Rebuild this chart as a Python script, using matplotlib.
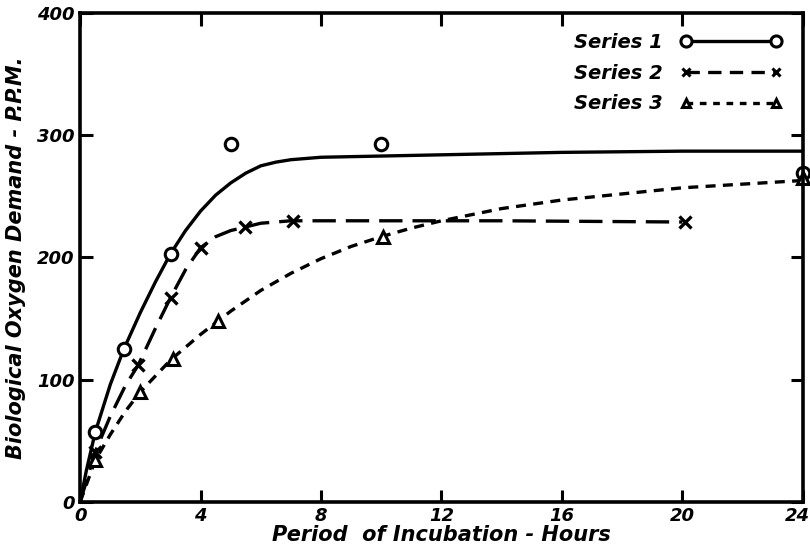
import matplotlib
matplotlib.use('Agg')
import matplotlib.pyplot as plt
import matplotlib.transforms as mtransforms
from matplotlib.lines import Line2D
from matplotlib.font_manager import FontProperties

# measured points (hours, ppm)
s1_x = [0.5, 1.45, 3.0, 5.0, 10.0, 24.0]
s1_y = [57, 125, 203, 293, 293, 269]
s2_x = [0.5, 1.93, 3.0, 4.0, 5.47, 7.07, 20.1]
s2_y = [41, 112, 167, 208, 225, 230, 229]
s3_x = [0.5, 2.0, 3.07, 4.57, 10.07, 24.0]
s3_y = [34, 90, 117, 148, 217, 265]

# hand-drawn fitted curves
c1_x = [0, 0.2, 0.5, 1.0, 1.45, 2.0, 2.5, 3.0, 3.5, 4.0, 4.5, 5.0, 5.5, 6.0, 6.5, 7.0, 8.0, 10, 12, 16, 20, 24]
c1_y = [0, 25, 57, 96, 125, 155, 180, 203, 222, 238, 251, 261, 269, 275, 278, 280, 282, 283, 284, 286, 287, 287]
c2_x = [0, 0.5, 1.0, 1.5, 1.93, 2.5, 3.0, 3.5, 4.0, 4.5, 5.0, 5.5, 6.0, 7.0, 10, 14, 20]
c2_y = [0, 41, 70, 95, 112, 142, 167, 190, 208, 217, 222, 225, 228, 230, 230, 230, 229]
c3_x = [0, 0.5, 1.0, 1.5, 2.0, 3.0, 4.0, 5.0, 6.0, 7.0, 8.0, 9.0, 10, 11, 12, 14, 16, 18, 20, 22, 24]
c3_y = [0, 34, 55, 74, 90, 116, 137, 156, 173, 187, 199, 209, 217, 224, 230, 240, 247, 252, 257, 260, 263]

labels = ['Series 1', 'Series 2', 'Series 3']
x_ticks = [0, 4, 8, 12, 16, 20, 24]
y_ticks = [0, 100, 200, 300, 400]

font = {'family': 'DejaVu Sans', 'weight': 'bold', 'style': 'oblique'}

fig = plt.figure(figsize=(8.1, 5.46), dpi=100)
ax = fig.add_axes([0.099, 0.081, 0.892, 0.895])

ax.plot(c1_x, c1_y, color='black', lw=2.4, ls='-', solid_capstyle='round')
ax.plot(c2_x, c2_y, color='black', lw=2.4, ls=(0, (7, 3)))
ax.plot(c3_x, c3_y, color='black', lw=2.4, ls=(0, (3, 2.2)))

ax.plot(s1_x, s1_y, 'o', ms=9, mfc='white', mec='black', mew=2.2, clip_on=False)
ax.plot(s2_x, s2_y, 'x', ms=8, mec='black', mew=2.4, clip_on=False)
ax.plot(s3_x, s3_y, '^', ms=8, mfc='white', mec='black', mew=2.2, clip_on=False)

ax.set_xlim(0, 24)
ax.set_ylim(0, 400)
ax.set_xticks(x_ticks)
ax.set_yticks(y_ticks)
ax.tick_params(direction='in', length=9, width=2.2, top=True, right=True, pad=4)
for lab in ax.get_xticklabels() + ax.get_yticklabels():
    lab.set_fontproperties(FontProperties(size=13, **font))
# the last x label sits right at the page edge; nudge it in a little
last = ax.get_xticklabels()[-1]
last.set_transform(last.get_transform() + mtransforms.ScaledTranslation(-5 / 100, 0, fig.dpi_scale_trans))
for s in ax.spines.values():
    s.set_linewidth(2.6)

ax.set_xlabel('Period  of Incubation - Hours', fontsize=15, labelpad=0, **font)
ax.set_ylabel('Biological Oxygen Demand - P.P.M.', fontsize=15, labelpad=8, **font)

handles = [
    Line2D([], [], color='black', lw=2.4, marker='o', ms=8, mfc='white', mew=2.2),
    Line2D([], [], color='black', lw=2.4, ls=(0, (4, 2.5)), marker='x', ms=6, mew=2.2),
    Line2D([], [], color='black', lw=2.4, ls=(0, (2, 2)), marker='^', ms=6, mfc='white', mew=2.2),
]
leg = ax.legend(handles, labels, loc='upper right', bbox_to_anchor=(0.995, 0.995),
                frameon=False, markerfirst=False, numpoints=2, handlelength=5.2,
                handletextpad=0.9, labelspacing=0.6,
                prop=FontProperties(size=14, **font))

plt.savefig('out.png', dpi=100)
